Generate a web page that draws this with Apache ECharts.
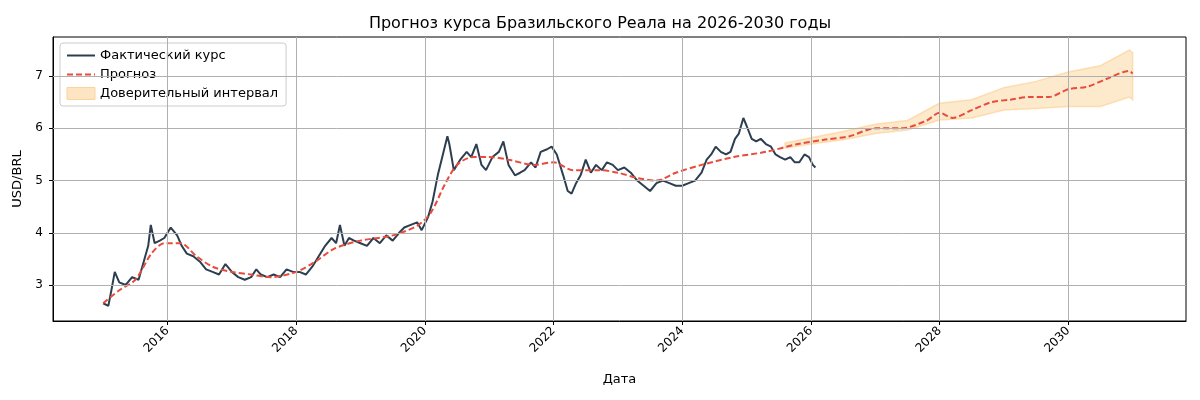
<!DOCTYPE html>
<html><head><meta charset="utf-8">
<script src="https://cdn.jsdelivr.net/npm/echarts@6/dist/echarts.min.js"></script>
<style>html,body{margin:0;padding:0;background:#fff}#c{width:1200px;height:400px}</style>
</head><body><div id="c"></div>
<script>
const actualX=[2015.0,2015.08,2015.12,2015.18,2015.25,2015.35,2015.45,2015.55,2015.62,2015.7,2015.74,2015.8,2015.88,2015.95,2016.05,2016.15,2016.22,2016.3,2016.4,2016.5,2016.6,2016.7,2016.8,2016.9,2017.0,2017.1,2017.2,2017.3,2017.38,2017.45,2017.55,2017.65,2017.75,2017.85,2017.95,2018.05,2018.15,2018.25,2018.35,2018.45,2018.55,2018.62,2018.68,2018.75,2018.82,2018.9,2019.0,2019.1,2019.2,2019.3,2019.4,2019.5,2019.6,2019.68,2019.78,2019.88,2019.95,2020.05,2020.12,2020.2,2020.28,2020.35,2020.38,2020.45,2020.55,2020.65,2020.72,2020.8,2020.88,2020.95,2021.05,2021.15,2021.22,2021.3,2021.4,2021.48,2021.55,2021.65,2021.72,2021.8,2021.9,2021.97,2022.05,2022.15,2022.22,2022.28,2022.35,2022.42,2022.5,2022.58,2022.66,2022.75,2022.83,2022.92,2023.0,2023.1,2023.2,2023.3,2023.4,2023.5,2023.6,2023.7,2023.8,2023.9,2024.0,2024.1,2024.2,2024.3,2024.38,2024.45,2024.52,2024.6,2024.68,2024.75,2024.82,2024.88,2024.95,2025.0,2025.08,2025.15,2025.22,2025.3,2025.38,2025.45,2025.52,2025.6,2025.68,2025.75,2025.82,2025.9,2025.97,2026.03,2026.07];
const actualY=[2.65,2.6,2.85,3.25,3.05,3.0,3.15,3.1,3.4,3.75,4.15,3.8,3.85,3.9,4.1,3.95,3.75,3.6,3.55,3.45,3.3,3.25,3.2,3.4,3.25,3.15,3.1,3.15,3.3,3.2,3.15,3.2,3.15,3.3,3.25,3.25,3.2,3.35,3.55,3.75,3.9,3.8,4.15,3.75,3.9,3.85,3.8,3.75,3.9,3.8,3.95,3.85,4.0,4.1,4.15,4.2,4.05,4.3,4.6,5.1,5.5,5.85,5.7,5.2,5.4,5.55,5.45,5.7,5.3,5.2,5.45,5.55,5.75,5.3,5.1,5.15,5.2,5.35,5.25,5.55,5.6,5.65,5.5,5.1,4.8,4.75,4.95,5.1,5.4,5.15,5.3,5.2,5.35,5.3,5.2,5.25,5.15,5.0,4.9,4.8,4.95,5.0,4.95,4.9,4.9,4.95,5.0,5.15,5.4,5.5,5.65,5.55,5.5,5.55,5.8,5.9,6.2,6.05,5.8,5.75,5.8,5.7,5.65,5.5,5.45,5.4,5.45,5.35,5.35,5.5,5.45,5.3,5.25];
const fcX=[2015.0,2015.25,2015.5,2015.75,2015.95,2016.2,2016.45,2016.7,2017.0,2017.3,2017.6,2018.0,2018.3,2018.6,2019.0,2019.5,2019.9,2020.1,2020.3,2020.5,2020.75,2021.0,2021.3,2021.7,2022.0,2022.3,2022.7,2023.0,2023.3,2023.6,2023.9,2024.3,2024.8,2025.3,2025.8,2026.2,2026.6,2027.0,2027.4,2027.8,2028.0,2028.2,2028.5,2028.8,2029.1,2029.4,2029.7,2030.0,2030.3,2030.6,2030.95,2031.0];
const fcY=[2.65,2.9,3.1,3.6,3.8,3.8,3.55,3.35,3.25,3.2,3.15,3.25,3.45,3.7,3.85,3.95,4.15,4.4,4.9,5.3,5.45,5.45,5.4,5.3,5.35,5.2,5.2,5.15,5.05,5.0,5.15,5.3,5.45,5.55,5.7,5.78,5.85,6.0,6.0,6.15,6.3,6.2,6.35,6.5,6.55,6.6,6.6,6.75,6.8,6.95,7.1,7.05];
const bandX=[2025.6,2026.0,2026.5,2027.0,2027.5,2028.0,2028.5,2029.0,2029.5,2030.0,2030.5,2030.95,2031.0];
const bandLow=[5.62,5.7,5.78,5.9,5.97,6.16,6.2,6.35,6.38,6.42,6.42,6.6,6.55];
const bandHigh=[5.72,5.82,5.94,6.08,6.15,6.48,6.55,6.78,6.9,7.08,7.2,7.5,7.45];
const xTicks=[2016,2018,2020,2022,2024,2026,2028,2030];
const yTicks=[3,4,5,6,7];

const zip=(a,b)=>a.map((v,i)=>[v,b[i]]);
const bandData=bandX.map((x,i)=>[x,bandLow[i],bandHigh[i]]);
const ch=echarts.init(document.getElementById('c'));
ch.setOption({
  animation:false,
  title:{text:'Прогноз курса Бразильского Реала на 2026-2030 годы',left:'center',top:11,textStyle:{fontFamily:'DejaVu Sans',fontSize:16,fontWeight:'normal',color:'#000'}},
  grid:{left:53,right:14,top:37,bottom:79,show:true,borderColor:'#000',borderWidth:1},
  legend:{left:60,top:43,orient:'vertical',backgroundColor:'#fff',borderColor:'#ccc',borderWidth:1,borderRadius:3,padding:[6,8,6,6],itemGap:6,itemWidth:28,itemHeight:12,textStyle:{fontFamily:'DejaVu Sans',fontSize:13,color:'#000'},
    data:[{name:'Фактический курс',itemStyle:{opacity:0}},{name:'Прогноз',itemStyle:{opacity:0}},{name:'Доверительный интервал',icon:'rect',itemStyle:{color:'#fde5c4',borderColor:'#fbd49a',borderWidth:1}}]},
  xAxis:{type:'value',min:2014.22,max:2031.83,splitLine:{show:false},
    axisLine:{lineStyle:{color:'#000'}},axisTick:{customValues:xTicks,length:4,lineStyle:{color:'#000'}},
    axisLabel:{customValues:xTicks,formatter:v=>String(v),rotate:45,color:'#000',fontFamily:'DejaVu Sans',fontSize:12,margin:8},
    name:'Дата',nameLocation:'middle',nameGap:52,nameTextStyle:{fontFamily:'DejaVu Sans',fontSize:13,color:'#000'}},
  yAxis:{type:'value',min:2.31,max:7.75,splitLine:{show:false},
    axisLine:{show:true,lineStyle:{color:'#000'}},axisTick:{show:true,customValues:yTicks,length:4,lineStyle:{color:'#000'}},
    axisLabel:{customValues:yTicks,color:'#000',fontFamily:'DejaVu Sans',fontSize:12,margin:10},
    name:'USD/BRL',nameLocation:'middle',nameGap:24,nameTextStyle:{fontFamily:'DejaVu Sans',fontSize:13,color:'#000'}},
  series:[
    {type:'custom',name:'Доверительный интервал',data:bandData,z:2,silent:true,itemStyle:{color:'#fde5c4'},
      renderItem:(params,api)=>{
        if(params.dataIndex!==0) return;
        const up=bandData.map(d=>api.coord([d[0],d[2]]));
        const lo=bandData.map(d=>api.coord([d[0],d[1]])).reverse();
        return {type:'polygon',shape:{points:up.concat(lo)},style:{fill:'rgba(252,218,168,0.6)',stroke:'rgba(251,205,140,0.6)',lineWidth:1.5}};
      },
      markLine:{silent:true,symbol:'none',label:{show:false},lineStyle:{color:'#b0b0b0',type:'solid',width:1},
        data:xTicks.map(v=>({xAxis:v})).concat(yTicks.map(v=>({yAxis:v})))}},
    {type:'line',name:'Фактический курс',data:zip(actualX,actualY),symbol:'none',lineStyle:{color:'#2c3e50',width:2},itemStyle:{color:'#2c3e50'},z:3},
    {type:'line',name:'Прогноз',data:zip(fcX,fcY),symbol:'none',smooth:0.3,lineStyle:{color:'#e74c3c',width:2,type:[6,3]},itemStyle:{color:'#e74c3c'},z:4}
  ]
});
</script></body></html>
